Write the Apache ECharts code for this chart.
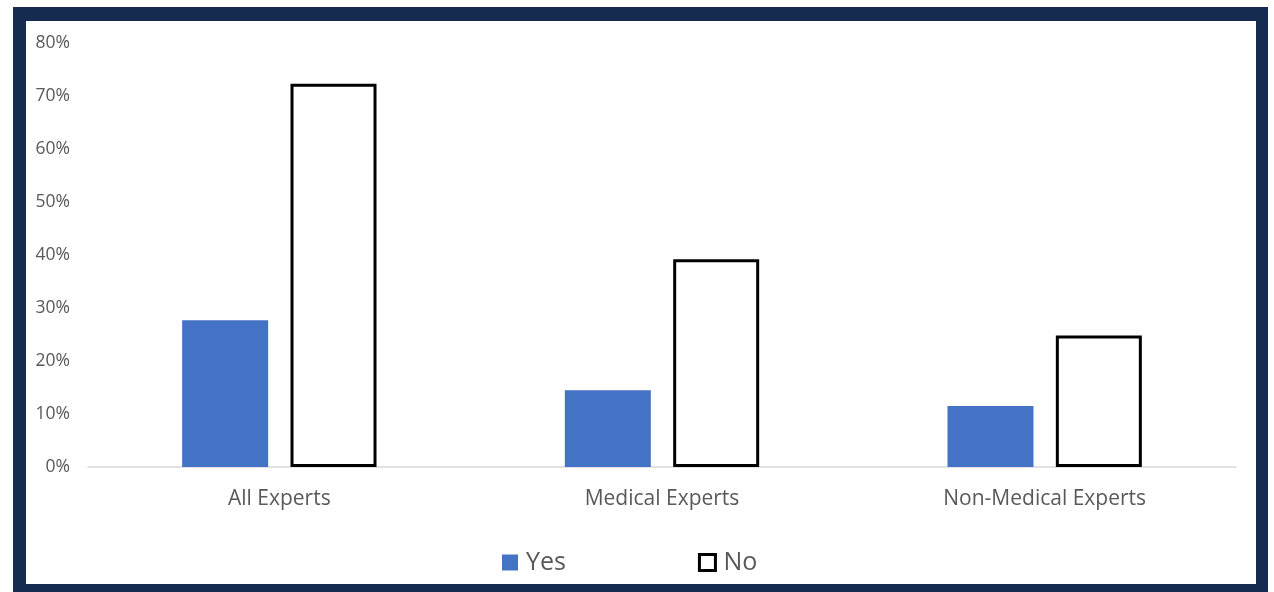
<!DOCTYPE html>
<html>
<head>
<meta charset="utf-8">
<script src="https://cdn.jsdelivr.net/npm/echarts@6/dist/echarts.min.js"></script>
<style>
html,body{margin:0;padding:0;background:#fff;overflow:hidden;}
#frame{position:absolute;left:13px;top:7px;width:1230px;height:563px;border:13px solid #152b4f;border-top-width:14px;border-right-width:12px;border-bottom-width:8px;box-sizing:content-box;}
#chart{position:absolute;left:0;top:0;width:1274px;height:592px;}
</style>
</head>
<body>
<div id="chart"></div>
<div id="frame" style="pointer-events:none"></div>
<script>
const categories = ['All Experts', 'Medical Experts', 'Non-Medical Experts'];
const yesValues = [27.7, 14.5, 11.5];
const noValues = [72.3, 39.2, 24.8];
const seriesNames = ['Yes', 'No'];

const chart = echarts.init(document.getElementById('chart'));
chart.setOption({
  animation: false,
  backgroundColor: '#fff',
  grid: { left: 88, right: 38, top: 43, bottom: 125 },
  legend: {
    data: [
      { name: seriesNames[0] },
      { name: seriesNames[1], itemStyle: { borderWidth: 3, borderColor: '#000' } }
    ],
    left: 497, top: 545,
    icon: 'rect',
    itemWidth: 16, itemHeight: 16, itemGap: 132,
    textStyle: { fontSize: 25, color: '#595959', fontFamily: 'Open Sans', padding: [0, 0, 0, 3] }
  },
  xAxis: {
    type: 'category',
    data: categories,
    axisLine: { lineStyle: { color: '#d9d9d9', width: 1.5 } },
    axisTick: { show: false },
    axisLabel: { fontSize: 21, color: '#595959', margin: 22, fontFamily: 'Open Sans' }
  },
  yAxis: {
    type: 'value',
    min: 0, max: 80, interval: 10,
    splitLine: { show: false },
    axisLine: { show: false },
    axisTick: { show: false },
    axisLabel: { formatter: '{value}%', fontSize: 17.5, color: '#595959', margin: 18, fontFamily: 'Open Sans' }
  },
  series: [
    {
      name: seriesNames[0], type: 'bar', data: yesValues,
      barWidth: 86, barGap: '26%',
      itemStyle: { color: '#4472c4' }
    },
    {
      name: seriesNames[1], type: 'bar', data: noValues,
      barWidth: 86,
      itemStyle: { color: '#ffffff', borderColor: '#000000', borderWidth: 3 }
    }
  ]
});
</script>
</body>
</html>
